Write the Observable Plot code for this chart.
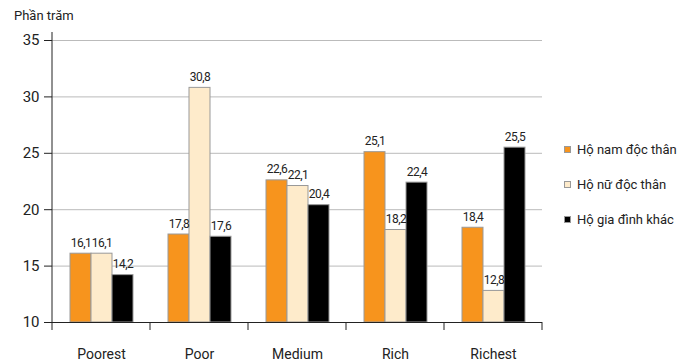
<!DOCTYPE html>
<html><head><meta charset="utf-8">
<script src="https://cdn.jsdelivr.net/npm/d3@7"></script>
<script src="https://cdn.jsdelivr.net/npm/@observablehq/plot@0.6"></script>
<style>
body{margin:0;background:#fff;font-family:Roboto,sans-serif;}
#wrap{position:relative;width:682px;height:363px;overflow:hidden;}
#title{position:absolute;left:14px;top:8px;font-size:13px;color:#222;}
#legend{position:absolute;left:564px;top:132px;font-size:13px;color:#222;}
.item{display:flex;align-items:center;height:35px;white-space:nowrap;}
.sw{width:7px;height:7px;border:1px solid #999;margin-right:6px;box-sizing:border-box;}
svg g[aria-label="text"] text{letter-spacing:-0.5px;}
</style>
</head><body>
<div id="wrap"><div id="title">Phần trăm</div><div id="legend"></div></div>
<script>
const categories = ["Poorest","Poor","Medium","Rich","Richest"];
const seriesNames = ["Hộ nam độc thân","Hộ nữ độc thân","Hộ gia đình khác"];
const namValues = [16.1,17.8,22.6,25.1,18.4];
const nuValues = [16.1,30.8,22.1,18.2,12.8];
const khacValues = [14.2,17.6,20.4,22.4,25.5];
const yTicks = [10,15,20,25,30,35];
const colors = ["#F7941D","#FEEBCB","#000000"];

const seriesValues = [namValues, nuValues, khacValues];
const data = [];
categories.forEach((c,i)=>seriesNames.forEach((s,j)=>data.push({cat:c,series:s,value:seriesValues[j][i]})));
const fmt = v => v.toFixed(1).replace(".", ",");

const plot = Plot.plot({
  width:682, height:363,
  marginLeft:50, marginRight:138, marginTop:32, marginBottom:41,
  style:{fontFamily:"Roboto, sans-serif", color:"#222", background:"transparent"},
  fx:{domain:categories, padding:0, label:null},
  x:{domain:seriesNames, paddingInner:0, paddingOuter:0.75, axis:null},
  y:{domain:[10,35], insetTop:8, label:null, axis:null},
  color:{domain:seriesNames, range:colors},
  marks:[
    Plot.gridY(yTicks,{stroke:"#bbb", strokeOpacity:1}),
    Plot.axisY(yTicks,{tickSize:8, tickPadding:5, fontSize:15, label:null, tickFormat:d=>d}),
    Plot.axisFx({anchor:"bottom", tickSize:0, tickPadding:27, fontSize:14, label:null}),
    Plot.barY(data,{fx:"cat", x:"series", y1:10, y2:"value", fill:"series", stroke:"#999", strokeWidth:1}),
    Plot.ruleY([10],{stroke:"#222"}),
    Plot.text(data,{fx:"cat", x:"series", y:"value", text:d=>fmt(d.value), dy:-7, lineAnchor:"bottom", fontSize:12, fill:"#222"})
  ]
});

const wrap = document.getElementById("wrap");
wrap.insertBefore(plot, wrap.firstChild);

// left axis line and category boundary ticks, from the plot's scales
const ys = plot.scale("y"), fxs = plot.scale("fx");
const svg = d3.select(plot);
const y0 = ys.apply(10), yTop = ys.apply(35);
const bw = fxs.bandwidth;
const bounds = categories.map(c=>fxs.apply(c)).concat([fxs.apply(categories[categories.length-1])+bw]);
svg.append("line").attr("x1",bounds[0]).attr("x2",bounds[0]).attr("y1",yTop-8).attr("y2",y0).attr("stroke","#222");
svg.selectAll("line.bt").data(bounds).join("line").attr("class","bt")
  .attr("x1",d=>d).attr("x2",d=>d).attr("y1",y0).attr("y2",y0+8).attr("stroke","#222");

const legend = d3.select("#legend");
seriesNames.forEach((s,i)=>{
  const it = legend.append("div").attr("class","item");
  it.append("div").attr("class","sw").style("background",colors[i]);
  it.append("span").text(s);
});
</script>
</body></html>
